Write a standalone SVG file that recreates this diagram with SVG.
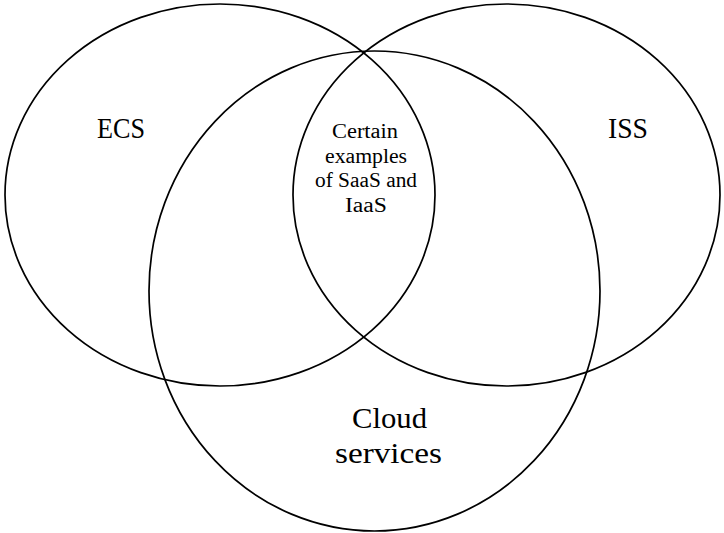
<svg xmlns="http://www.w3.org/2000/svg" width="724" height="533" viewBox="0 0 724 533">
  <style>
    .set { fill: none; stroke: #000; stroke-width: 1.7; }
    .big { font-family: "Liberation Serif", "Times New Roman", serif; font-size: 30px; fill: #000; }
    .small { font-family: "Liberation Serif", "Times New Roman", serif; font-size: 20px; fill: #000; text-anchor: middle; }
  </style>
  <rect width="724" height="533" fill="#fff"/>
  <g id="ecs">
    <ellipse class="set" cx="220" cy="195" rx="215" ry="191"/>
    <text class="big" x="97" y="138" textLength="48" lengthAdjust="spacingAndGlyphs">ECS</text>
  </g>
  <g id="iss">
    <ellipse class="set" cx="506.5" cy="195" rx="213.5" ry="191"/>
    <text class="big" x="608" y="138" textLength="40" lengthAdjust="spacingAndGlyphs">ISS</text>
  </g>
  <g id="cloud">
    <ellipse class="set" cx="374.5" cy="291" rx="225.5" ry="240"/>
    <text class="big" x="352" y="428" textLength="75" lengthAdjust="spacingAndGlyphs">Cloud</text>
    <text class="big" x="335" y="463" textLength="107" lengthAdjust="spacingAndGlyphs">services</text>
  </g>
  <g id="overlap">
    <text class="small" x="365" y="138" textLength="66" lengthAdjust="spacingAndGlyphs">Certain</text>
    <text class="small" x="366" y="163" textLength="82" lengthAdjust="spacingAndGlyphs">examples</text>
    <text class="small" x="366" y="187" textLength="102" lengthAdjust="spacingAndGlyphs">of SaaS and</text>
    <text class="small" x="366" y="212" textLength="42" lengthAdjust="spacingAndGlyphs">IaaS</text>
  </g>
  <g id="connectors"></g>
</svg>
